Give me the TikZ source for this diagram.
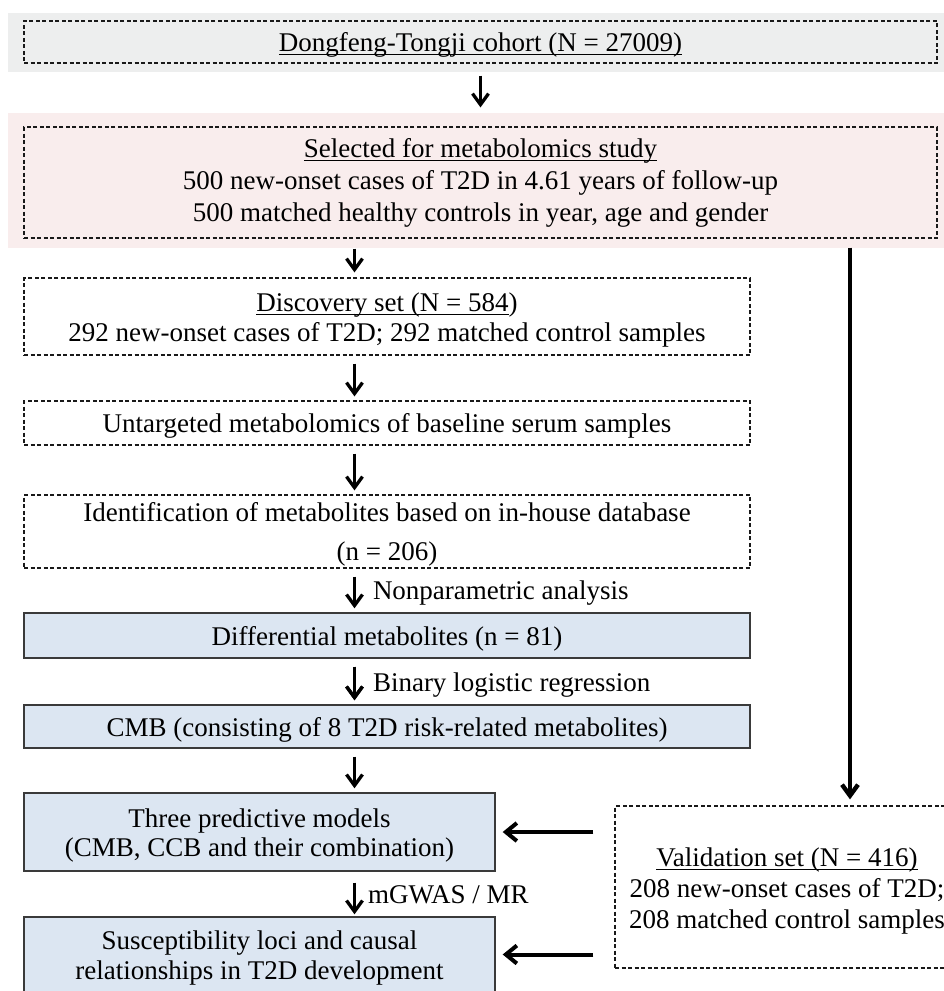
\documentclass[tikz,border=0pt]{standalone}
\usepackage{fontspec}
\setmainfont{Liberation Serif}
\usepackage{tikz}
\usetikzlibrary{arrows.meta,positioning,calc}
\definecolor{bandGray}{HTML}{EDEEEE}
\definecolor{bandPink}{HTML}{F9EDED}
\definecolor{boxBlue}{HTML}{DCE6F2}
\definecolor{boxEdge}{HTML}{3A3A3A}
\newsavebox\ulbox
\newcommand{\underl}[1]{\sbox\ulbox{#1}\rlap{\rule[-3.5pt]{\wd\ulbox}{0.9pt}}\usebox\ulbox}
\newcommand{\topstrut}{\rule{0pt}{25pt}}
\newcommand{\botstrut}{\rule[-6pt]{0pt}{6pt}}

\begin{document}
\begin{tikzpicture}[
    x=1pt, y=-1pt,
    every node/.style={font=\fontsize{27}{31}\selectfont, inner sep=0pt, align=center,
      execute at begin node={\rule{0pt}{25pt}}, execute at end node={\rule[-6pt]{0pt}{6pt}}},
    dashbox/.style={draw=black!90, line width=1.2pt, dash pattern=on 4pt off 2.5pt},
    bluebox/.style={draw=boxEdge, fill=boxBlue, line width=1.4pt},
    flow/.style={-{Straight Barb[length=11pt,width=16pt,line width=0pt 1.1]}, line width=3pt, shorten <=8pt, shorten >=4pt},
    sideflow/.style={-{Straight Barb[length=11pt,width=18pt,line width=0pt 1]}, line width=4pt, shorten <=21pt, shorten >=7pt},
    arrownote/.style={midway, anchor=west, xshift=17pt}
  ]
  \useasboundingbox (0,0) rectangle (944,991);
  %% coloured bands behind the two top boxes
  \fill[bandGray] (8,13) rectangle (944,72);
  \fill[bandPink] (8,113) rectangle (944,248);

  %% main column
  \node[dashbox, minimum width=913pt, minimum height=42pt] (cohort) at (480.5,42)
    {\underl{Dongfeng-Tongji cohort (N = 27009)}};
  \node[dashbox, minimum width=913pt, minimum height=111pt] (select) at (480.5,182.5)
    {\underl{Selected for metabolomics study}\\[1pt]
     500 new-onset cases of T2D in 4.61 years of follow-up\\[1pt]
     500 matched healthy controls in year, age and gender};
  \node[dashbox, minimum width=726pt, minimum height=77pt] (disc) at (387,316.5)
    {\topstrut\underl{Discovery set (N = 584})\\[-1pt]
     292 new-onset cases of T2D; 292 matched control samples\botstrut};
  \node[dashbox, minimum width=726pt, minimum height=44pt] (untg) at (387,423)
    {Untargeted metabolomics of baseline serum samples};
  \node[dashbox, minimum width=726pt, minimum height=73pt] (ident) at (387,531.5)
    {\topstrut Identification of metabolites based on in-house database\\[8pt]
     (n = 206)\botstrut};
  \node[bluebox, minimum width=726pt, minimum height=45pt] (diff) at (387,635.5)
    {Differential metabolites (n = 81)};
  \node[bluebox, minimum width=726pt, minimum height=43pt] (cmb) at (387,726.5)
    {CMB (consisting of 8 T2D risk-related metabolites)};
  \node[bluebox, minimum width=471pt, minimum height=78pt] (pred) at (259.5,832)
    {\topstrut Three predictive models\\[-2pt]
     (CMB, CCB and their combination)\botstrut};
  \node[bluebox, minimum width=471pt, minimum height=75pt] (susc) at (259.5,954.5)
    {\topstrut Susceptibility loci and causal\\[-1pt]
     relationships in T2D development\botstrut};

  %% validation branch
  \node[dashbox, minimum width=344pt, minimum height=162pt] (valid) at (787,887)
    {\rule{0pt}{27pt}\underl{Validation set (N = 416)}\\
     208 new-onset cases of T2D;\\
     208 matched control samples\botstrut};

  \coordinate (spine) at (354.5,0);
  \coordinate (side) at (850,0);

  %% connectors
  \draw[flow, shorten <=12pt, shorten >=19pt] (cohort.south) -- (select.north);
  \draw[flow, shorten <=10pt, shorten >=5pt] (select.south -| spine) -- (disc.north -| spine);
  \foreach \a/\b in {disc/untg, untg/ident, diff/cmb, cmb/pred}
    \draw[flow] (\a.south -| spine) -- (\b.north -| spine);
  \draw[flow] (ident.south -| spine) -- node[arrownote] {Nonparametric analysis} (diff.north -| spine);
  \draw[flow] (diff.south -| spine) -- node[arrownote] {Binary logistic regression} (cmb.north -| spine);
  \draw[flow, shorten <=11pt, shorten >=2pt] (pred.south -| spine) -- node[arrownote, xshift=-5pt] {mGWAS / MR} (susc.north -| spine);
  \draw[flow, line width=4pt, shorten <=9pt, shorten >=6pt] (select.south -| side) -- (valid.north -| side);
  \draw[sideflow] (valid.west |- pred.east) -- (pred.east);
  \draw[sideflow] (valid.west |- susc.east) -- (susc.east);
\end{tikzpicture}
\end{document}
